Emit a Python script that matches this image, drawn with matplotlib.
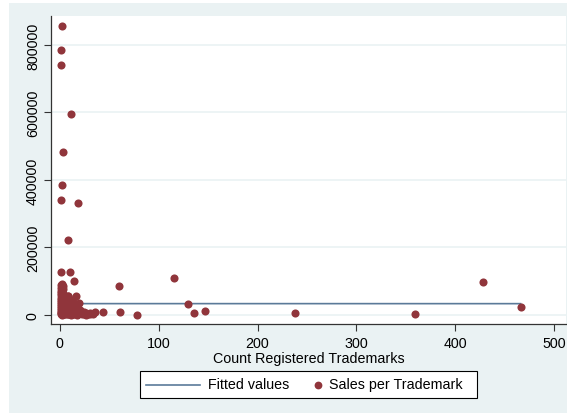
import matplotlib
matplotlib.use("Agg")
import matplotlib.pyplot as plt
from matplotlib.patches import Rectangle
from matplotlib.lines import Line2D

plt.rcParams['font.family'] = ['Liberation Sans', 'DejaVu Sans']

# Outlying firms (trademark count, sales per trademark)
outer_x = [2, 1, 1, 11, 3, 2, 1, 18, 8, 1, 10, 14, 2, 3, 16, 8, 19, 36, 44,
           60, 61, 78, 115, 130, 136, 147, 238, 359, 428, 466]
outer_y = [855000, 786000, 741000, 595000, 483000, 384000, 340000, 332000,
           222000, 126000, 126000, 101000, 92000, 87000, 57000, 57000, 35500,
           8000, 8000, 87000, 10000, 1000, 109500, 33500, 6000, 13000, 6000,
           3000, 98500, 24500]

# Dense group of small trademark holders
cluster_x = ([1] * 15 + [2] * 9 + [3] * 8 + [4] * 6 + [5] * 5 + [6] * 4 + [7] * 4
             + [8] * 5 + [9] * 4 + [10] * 3 + [11] * 3 + [12] * 3 + [13] * 3
             + [14] * 3 + [15] * 2 + [17] * 3 + [18] * 2 + [20] * 2 + [22] * 2
             + [24] * 2 + [26] * 2 + [28] + [30] * 2 + [33])
cluster_y = [90000, 80000, 72000, 65000, 58000, 50000, 44000, 38000, 32000, 26000,
             20000, 15000, 10000, 5000, 2000,
             85000, 70000, 55000, 40000, 30000, 22000, 12000, 6000, 1000,
             78000, 62000, 47000, 35000, 25000, 14000, 7000, 3000,
             60000, 45000, 28000, 18000, 9000, 2000,
             52000, 36000, 24000, 11000, 4000,
             48000, 30000, 16000, 6000,
             40000, 27000, 12000, 3000,
             55000, 33000, 20000, 8000, 1500,
             42000, 25000, 10000, 2500,
             38000, 18000, 5000,
             30000, 13000, 1000,
             45000, 22000, 7000,
             28000, 9000, 2000,
             35000, 15000, 4000,
             20000, 6000,
             25000, 10000, 1000,
             12000, 3000,
             15000, 5000,
             8000, 2000,
             10000, 3000,
             6000, 1000,
             4000,
             7000, 2000,
             3000]

# Linear fit endpoints
fit_x = [1, 466]
fit_y = [33400, 33300]

x_ticks = [0, 100, 200, 300, 400, 500]
y_ticks = [0, 200000, 400000, 600000, 800000]
legend_labels = ['Fitted values', 'Sales per Trademark']

BG = '#EAF2F3'
MAROON = '#90353B'
LINE = '#5B7A99'
W, H = 567, 414
FS = 10.3


def fx(px):
    return px / W


def fy(py):
    return 1 - py / H


fig = plt.figure(figsize=(W / 100, H / 100), dpi=100, facecolor='white')
fig.patches.append(Rectangle((fx(9), 0), 1, fy(4), transform=fig.transFigure,
                             facecolor=BG, edgecolor='none', zorder=-5))

ax = fig.add_axes([fx(51), fy(325), fx(566) - fx(51), fy(17) - fy(325)])
ax.set_facecolor('white')

ax.plot(fit_x, fit_y, color=LINE, lw=1.2, zorder=2)
ax.scatter(cluster_x + outer_x, cluster_y + outer_y, s=34, color=MAROON,
           linewidths=0, zorder=3)

ax.set_xlim(-9, 512)
ax.set_ylim(-27000, 886000)
ax.set_xticks(x_ticks)
ax.set_yticks(y_ticks)
ax.set_yticklabels([str(v) for v in y_ticks], rotation=90, va='center')
ax.tick_params(axis='both', labelsize=FS, length=5, width=0.8, color='#333333',
               direction='out')
ax.tick_params(axis='y', pad=3)
ax.grid(axis='y', color=BG, lw=1.2, zorder=0)
ax.set_axisbelow(True)

for side in ['top', 'right']:
    ax.spines[side].set_visible(False)
for side in ['left', 'bottom']:
    ax.spines[side].set_color('#333333')
    ax.spines[side].set_linewidth(0.9)

ax.set_xlabel('Count Registered Trademarks', fontsize=FS, labelpad=1)

# Legend box below the plot region
fig.patches.append(Rectangle((fx(140), fy(399)), fx(477) - fx(140), fy(372) - fy(399),
                             transform=fig.transFigure, facecolor='white',
                             edgecolor='black', lw=0.8, zorder=5))
fig.add_artist(Line2D([fx(146), fx(200)], [fy(385.5), fy(385.5)],
                      transform=fig.transFigure, color=LINE, lw=1.2, zorder=6))
fig.text(fx(208), fy(385.5), legend_labels[0], fontsize=FS, va='center',
         ha='left', zorder=6)
fig.add_artist(Line2D([fx(318)], [fy(385.5)], transform=fig.transFigure,
                      marker='o', ls='none', color=MAROON, markersize=5.6,
                      markeredgewidth=0, zorder=6))
fig.text(fx(329), fy(385.5), legend_labels[1], fontsize=FS, va='center',
         ha='left', zorder=6)

fig.savefig('out.png', dpi=100, facecolor=fig.get_facecolor())
